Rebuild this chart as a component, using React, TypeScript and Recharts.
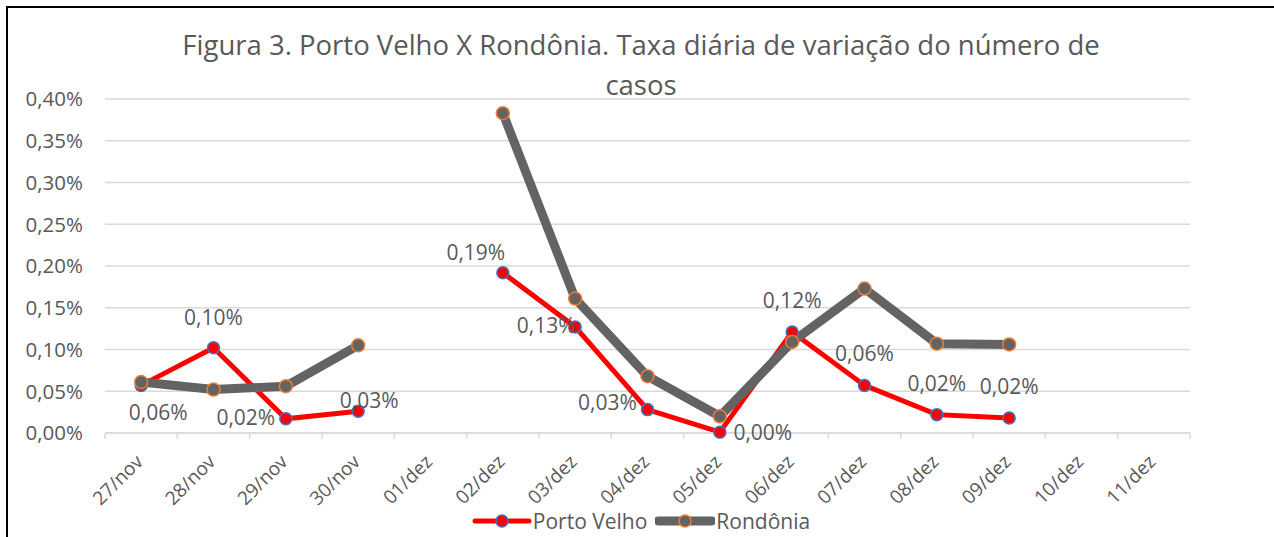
import React from "react"
import { CartesianGrid, Line, LineChart, XAxis, YAxis, LabelList } from "recharts"

const categories = [
  "27/nov", "28/nov", "29/nov", "30/nov", "01/dez", "02/dez", "03/dez", "04/dez",
  "05/dez", "06/dez", "07/dez", "08/dez", "09/dez", "10/dez", "11/dez",
]

// daily variation, in percent
const portoVelho = [0.057, 0.102, 0.017, 0.026, null, 0.192, 0.127, 0.028, 0.001, 0.121, 0.057, 0.022, 0.018, null, null]
const rondonia = [0.061, 0.052, 0.056, 0.105, null, 0.383, 0.161, 0.068, 0.02, 0.109, 0.173, 0.107, 0.106, null, null]

const yTicks = [0, 0.05, 0.1, 0.15, 0.2, 0.25, 0.3, 0.35, 0.4]

// where each Porto Velho label sits relative to its point
const labelOffsets = [
  [17, 27], [0, -31], [-40, -2], [11, -11], [0, 0], [-27, -21], [-29, -2],
  [-40, -8], [43, 0], [0, -32], [0, -32], [0, -32], [0, -32], [0, 0], [0, 0],
]

const data = categories.map((day, i) => ({
  day,
  portoVelho: portoVelho[i],
  rondonia: rondonia[i],
}))

const W = 1274
const H = 537
const margin = { top: 99, right: 84, bottom: 0, left: 0 }
const yAxisWidth = 105
const step = (W - margin.left - margin.right - yAxisWidth) / categories.length

const FONT = "'Open Sans', sans-serif"
const TEXT = "#595959"
const GRID = "#d9d9d9"
const RED = "#ff0000"
const GRAY = "#636363"

const pct = (v: number) => v.toFixed(2).replace(".", ",") + "%"

function XTick(props: any) {
  const { x, y, payload, index } = props
  const tx = x + 3
  const ty = y + 22
  return (
    <g>
      <line x1={x - step / 2} x2={x - step / 2} y1={y - 8} y2={y - 2} stroke={GRID} strokeWidth={1.5} />
      {index === categories.length - 1 && (
        <line x1={x + step / 2} x2={x + step / 2} y1={y - 8} y2={y - 2} stroke={GRID} strokeWidth={1.5} />
      )}
      <text
        x={tx}
        y={ty}
        textAnchor="end"
        fill={TEXT}
        fontSize={19}
        fontFamily={FONT}
        transform={`rotate(-45 ${tx} ${ty})`}
      >
        {payload.value}
      </text>
    </g>
  )
}

function PvLabel(props: any) {
  const { x, y, value, index } = props
  if (value == null) return null
  const [dx, dy] = labelOffsets[index] || [0, -30]
  return (
    <text
      x={x + dx}
      y={y + dy}
      textAnchor="middle"
      dominantBaseline="central"
      fill={TEXT}
      fontSize={21}
      fontFamily={FONT}
    >
      {pct(value)}
    </text>
  )
}

function PvDot(props: any) {
  const { cx, cy, value } = props
  if (value == null || cy == null) return null
  return <circle cx={cx} cy={cy} r={6} fill={RED} stroke="#4472c4" strokeWidth={1.5} />
}

function RoDot(props: any) {
  const { cx, cy, value } = props
  if (value == null || cy == null) return null
  return <circle cx={cx} cy={cy} r={6.5} fill={GRAY} stroke="#ed7d31" strokeWidth={1.5} />
}

function LegendItem({ color, dotStroke, width, label }: { color: string; dotStroke: string; width: number; label: string }) {
  return (
    <div style={{ display: "flex", alignItems: "center" }}>
      <svg width={60} height={20}>
        <line x1={3} x2={57} y1={10} y2={10} stroke={color} strokeWidth={width} strokeLinecap="round" />
        <circle cx={30} cy={10} r={6} fill={color} stroke={dotStroke} strokeWidth={1.5} />
      </svg>
      <span style={{ marginLeft: 1 }}>{label}</span>
    </div>
  )
}

export default function App() {
  return (
    <div style={{ position: "fixed", left: 0, top: 0, width: W, height: H, background: "#fff", fontFamily: FONT }}>
      <div
        style={{
          position: "absolute",
          left: 6,
          top: 6,
          right: 0,
          bottom: 0,
          borderLeft: "2px solid #000",
          borderTop: "2px solid #000",
        }}
      />
      <div
        style={{
          position: "absolute",
          top: 25,
          left: 0,
          width: 1282,
          textAlign: "center",
          color: TEXT,
          fontSize: 27.5,
          lineHeight: "40px",
        }}
      >
        Figura 3. Porto Velho X Rondônia. Taxa diária de variação do número de
        <br />
        casos
      </div>
      <div style={{ position: "absolute", left: 0, top: 0 }}>
        <LineChart width={W} height={H} data={data} margin={margin}>
          <CartesianGrid vertical={false} stroke={GRID} strokeWidth={1.5} />
          <XAxis
            dataKey="day"
            height={104}
            padding={{ left: step / 2, right: step / 2 }}
            tick={<XTick />}
            tickLine={false}
            axisLine={{ stroke: GRID, strokeWidth: 1.5 }}
            interval={0}
          />
          <YAxis
            width={yAxisWidth}
            domain={[0, 0.4]}
            ticks={yTicks}
            tickFormatter={pct}
            axisLine={false}
            tickLine={false}
            tickSize={0}
            tickMargin={22}
            tick={{ fill: TEXT, fontSize: 20.5, fontFamily: FONT }}
          />
          <Line
            dataKey="portoVelho"
            stroke={RED}
            strokeWidth={5}
            dot={<PvDot />}
            activeDot={false}
            isAnimationActive={false}
          >
            <LabelList dataKey="portoVelho" content={<PvLabel />} />
          </Line>
          <Line
            dataKey="rondonia"
            stroke={GRAY}
            strokeWidth={9}
            dot={<RoDot />}
            activeDot={false}
            isAnimationActive={false}
          />
        </LineChart>
      </div>
      <div
        style={{
          position: "absolute",
          top: 507,
          left: 0,
          width: 1282,
          display: "flex",
          justifyContent: "center",
          gap: 8,
          color: TEXT,
          fontSize: 21,
        }}
      >
        <LegendItem color={RED} dotStroke="#4472c4" width={5} label="Porto Velho" />
        <LegendItem color={GRAY} dotStroke="#ed7d31" width={9} label="Rondônia" />
      </div>
    </div>
  )
}
